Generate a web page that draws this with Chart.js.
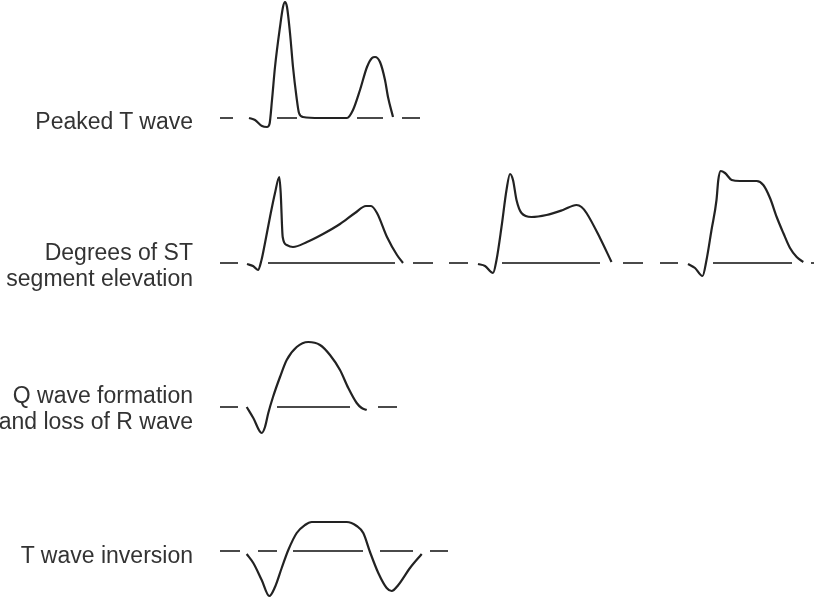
<!DOCTYPE html>
<html lang="en">

<head>
    <meta charset="utf-8" />
    <title>ECG changes in myocardial infarction</title>
    <script src="https://cdn.jsdelivr.net/npm/chart.js"></script>
    <style>
        body {
            margin: 0;
            background: #fff;
        }

        #wrap {
            position: relative;
            width: 814px;
            height: 598px;
            overflow: hidden;
        }

        .label {
            position: absolute;
            right: 621px;
            white-space: nowrap;
            text-align: right;
            font-family: "Liberation Sans", Arial, sans-serif;
            font-size: 23px;
            line-height: 26px;
            color: #333;
        }
    </style>
</head>

<body>
    <div id="wrap">
        <canvas id="ecg" width="814" height="598"></canvas>
        <div class="label" style="top: 108px;">Peaked T wave</div>
        <div class="label" style="top: 239px;">Degrees of ST<br>segment elevation</div>
        <div class="label" style="top: 382px;">Q wave formation<br>and loss of R wave</div>
        <div class="label" style="top: 542px;">T wave inversion</div>
    </div>
</body>

<script>
    // baseline level of each row (y axis runs top -> bottom)
    const rowBase = [118, 263, 407, 551];

    // waveforms: [time, amplitude above baseline]
    const peakedT = [[249, 0], [255, -2], [262, -8], [267, -9], [269.5, -6], [272, 18], [275, 51], [280, 91], [283, 111],
        [285, 116], [287, 111], [290, 85], [293, 51], [296.5, 21], [299, 5], [303, 1], [320, 0], [347, 0], [353, 8],
        [360, 28], [367, 51], [372, 60], [375, 61], [380, 56], [385, 38], [388, 21], [393, 1]];

    const stMild = [[247, -1], [253, -3], [258, -7], [261.5, 3], [265, 20], [270, 46], [275, 70], [279.3, 86],
        [280.7, 70], [282.7, 26], [286.7, 18], [293, 16], [307, 21], [323, 29], [340, 39], [355, 50], [366, 57],
        [371, 57], [377, 50], [387, 26], [397, 8], [403, 0]];

    const stMid = [[478, -1], [485, -3], [493, -10], [496.5, 3], [501.5, 36], [506.5, 73], [510, 89], [513, 83],
        [516.5, 63], [521.5, 50], [531.5, 46], [546.5, 48], [563, 53], [576.5, 58], [581.5, 56], [586.5, 50],
        [600, 25], [611.5, 1]];

    const stHigh = [[688, -1], [695, -5], [702.5, -13], [706.5, 3], [711.5, 33], [716.5, 63], [718.3, 83],
        [720.7, 92], [725, 90], [731.7, 83], [740, 82], [756.7, 82], [763.3, 78], [770, 65], [776.7, 46],
        [783.3, 30], [790, 15], [796.7, 6], [803.3, 1]];

    const qWave = [[246.7, 0], [253.3, -11], [261.7, -26], [265, -20], [268.3, -6], [273, 10], [280, 30],
        [286.7, 47], [296.7, 60], [308.3, 65], [320, 62], [330, 52], [340, 37], [348.3, 19], [356.7, 4],
        [361.7, -1], [366.7, -3]];

    const tInversion = [[246.7, -3], [253.3, -12], [261.7, -29], [269.3, -45], [275, -36], [281.7, -17],
        [288.3, 1], [296.7, 18], [305, 26], [311.7, 29], [346.7, 29], [356.7, 25], [363.3, 18], [370, -1],
        [378.3, -22], [386.7, -37], [391.7, -40], [398.3, -34], [410, -17], [421.7, -3]];

    // isoelectric line pieces per row: [from, to]
    const baseRow1 = [[220, 233], [277, 297], [357, 383], [402, 420]];
    const baseRow2 = [[220, 238], [268, 395], [413, 433], [449, 468], [502, 600], [623, 643], [660, 678],
        [713, 792], [811, 814]];
    const baseRow3 = [[220, 238], [277, 350], [378, 397]];
    const baseRow4 = [[220, 240], [258, 277], [293, 363], [380, 413], [430, 448]];

    const _wave = (pts, row) => ({
        data: pts.map(([t, a]) => ({ x: t, y: rowBase[row] - a })),
        showLine: true,
        borderColor: '#222',
        borderWidth: 2.2,
        pointRadius: 0,
        cubicInterpolationMode: 'monotone',
        clip: false
    });

    const _base = (segs, row) => {
        const _pts = [];
        segs.forEach(([a, b]) => {
            _pts.push({ x: a, y: rowBase[row] }, { x: b, y: rowBase[row] }, { x: b + 0.5, y: null });
        });
        return {
            data: _pts,
            showLine: true,
            spanGaps: false,
            borderColor: '#4a4a4a',
            borderWidth: 2,
            pointRadius: 0,
            tension: 0,
            clip: false
        };
    };

    new Chart(document.getElementById('ecg').getContext('2d'), {
        type: 'scatter',
        data: {
            datasets: [
                _base(baseRow1, 0), _base(baseRow2, 1), _base(baseRow3, 2), _base(baseRow4, 3),
                _wave(peakedT, 0),
                _wave(stMild, 1), _wave(stMid, 1), _wave(stHigh, 1),
                _wave(qWave, 2),
                _wave(tInversion, 3)
            ]
        },
        options: {
            responsive: false,
            animation: false,
            layout: { padding: 0 },
            plugins: {
                legend: { display: false },
                tooltip: { enabled: false }
            },
            scales: {
                x: { type: 'linear', min: 0, max: 814, display: false },
                y: { type: 'linear', min: 0, max: 598, reverse: true, display: false }
            }
        }
    });
</script>

</html>
